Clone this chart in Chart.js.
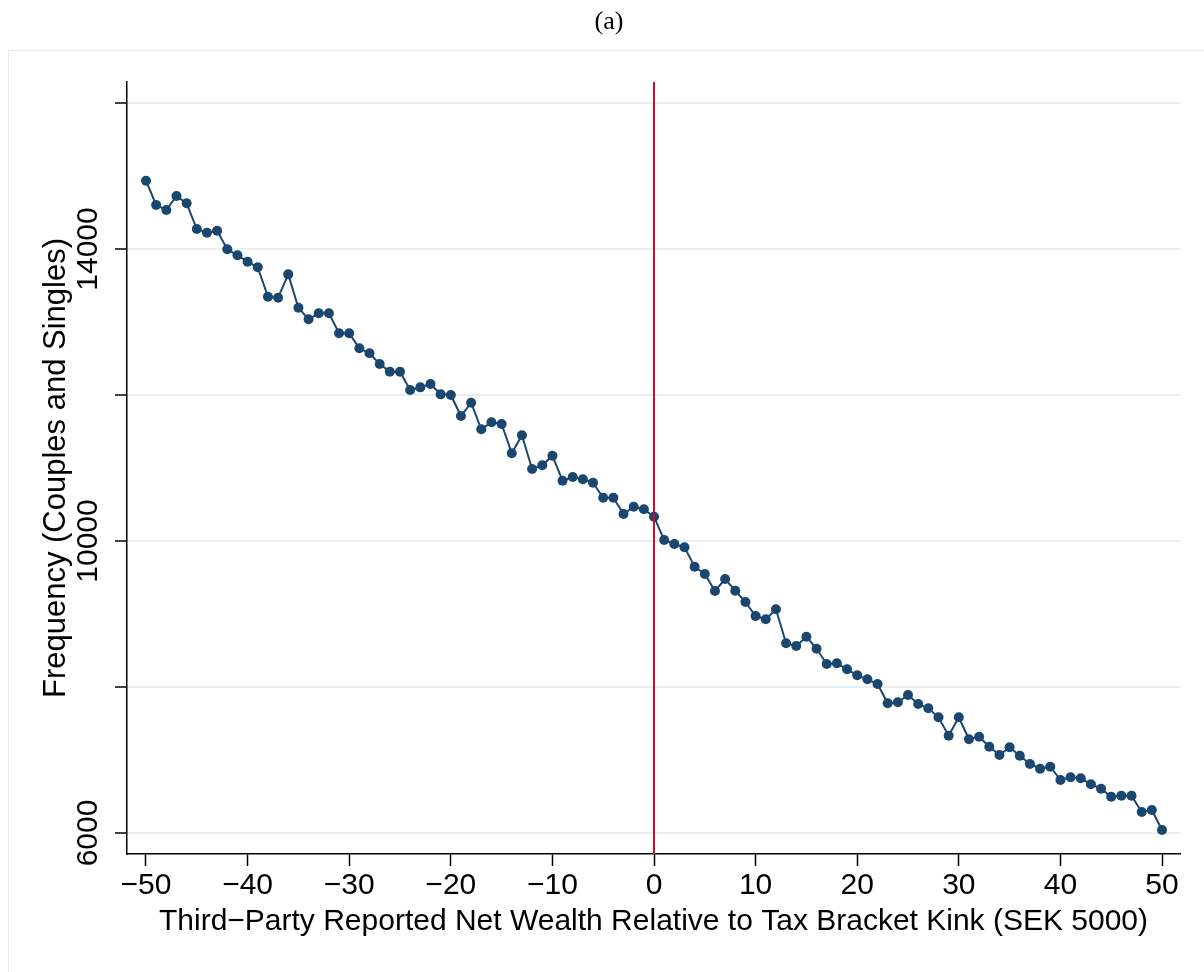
<!DOCTYPE html>
<html>
<head>
<meta charset="utf-8">
<script src="https://cdn.jsdelivr.net/npm/chart.js@4.4.1/dist/chart.umd.min.js"></script>
<style>
    html, body { margin: 0; padding: 0; background: #ffffff; overflow: hidden; width: 1204px; height: 972px; }
    #frame { position: absolute; left: 8px; top: 50px; width: 1300px; height: 1000px; border: 1px solid #e3ebeb; }
    #wrap { position: absolute; left: 0; top: 0; width: 1218px; height: 972px; }
</style>
</head>
<body>
<div id="frame"></div>
<div id="wrap"><canvas id="kink-chart"></canvas></div>
<script>
    "use strict";

    // Data
    var bins = [];
    for (var b = -50; b <= 50; b++) bins.push(b);

    var freqLeft = [
        14936, 14603, 14534, 14726, 14626, 14274, 14223, 14251, 13996, 13914,
        13826, 13749, 13347, 13333, 13653, 13196, 13037, 13119, 13119, 12845,
        12845, 12640, 12571, 12425, 12319, 12319, 12068, 12105, 12151, 12009,
        12000, 11712, 11894, 11530, 11626, 11603, 11201, 11448, 10986, 11037,
        11168, 10826, 10877, 10845, 10798, 10593, 10593, 10370, 10470, 10434
    ];
    var freqKink = [10333];
    var freqRight = [
        10013, 9959, 9914, 9648, 9548, 9315, 9479, 9319, 9164, 8972,
        8927, 9064, 8599, 8562, 8689, 8524, 8315, 8324, 8242, 8160,
        8105, 8041, 7776, 7790, 7890, 7767, 7708, 7585, 7333, 7585,
        7284, 7319, 7182, 7068, 7174, 7059, 6945, 6881, 6908, 6726,
        6763, 6749, 6667, 6607, 6497, 6511, 6511, 6288, 6315, 6041
    ];
    var frequency = freqLeft.concat(freqKink, freqRight);

    var xTicks = [-50, -40, -30, -20, -10, 0, 10, 20, 30, 40, 50];
    var yTicks = [6000, 8000, 10000, 12000, 14000, 16000];
    var yLabelled = [6000, 10000, 14000];
    var kinkAt = 0;

    var xMin = -51.87, xMax = 51.77;
    var yMin = 5712, yMax = 16288;

    var points = bins.map(function (x, i) {
        return {x: x, y: frequency[i]};
    });

    var font = "'Liberation Sans', Arial, Helvetica, sans-serif";

    var ctx = document.getElementById("kink-chart").getContext("2d");
    var myChart = new Chart(ctx, {
        type: "line",
        data: {
            datasets: [{
                    label: "Kink",
                    data: [{x: kinkAt, y: yMin}, {x: kinkAt, y: yMax}],
                    borderColor: "#c8102e",
                    borderWidth: 2,
                    pointRadius: 0
                },
                {
                    label: "Frequency",
                    data: points,
                    borderColor: "#1a476f",
                    backgroundColor: "#1a476f",
                    borderWidth: 2,
                    pointRadius: 5,
                    pointBorderWidth: 0,
                    tension: 0
                }
            ]
        },
        options: {
            responsive: true,
            maintainAspectRatio: false,
            animation: false,
            layout: {
                padding: 0
            },
            plugins: {
                legend: {display: false},
                tooltip: {enabled: false},
                title: {
                    display: true,
                    text: "(a)",
                    color: "#000000",
                    font: {family: "'Liberation Serif', 'DejaVu Serif', serif", size: 26, weight: "normal"},
                    padding: {top: 7, bottom: 43.8}
                }
            },
            scales: {
                x: {
                    type: "linear",
                    min: xMin,
                    max: xMax,
                    afterBuildTicks: function (scale) {
                        scale.ticks = xTicks.map(function (v) { return {value: v}; });
                    },
                    afterFit: function (scale) {
                        scale.height = 118;
                    },
                    grid: {
                        drawOnChartArea: false,
                        drawTicks: true,
                        tickLength: 12,
                        tickColor: "#000000",
                        tickWidth: 1.5
                    },
                    border: {display: true, color: "#000000", width: 1.5},
                    ticks: {
                        color: "#000000",
                        padding: 2,
                        maxRotation: 0,
                        autoSkip: false,
                        font: {family: font, size: 30},
                        callback: function (v) {
                            return String(v).replace("-", "\u2212");
                        }
                    },
                    title: {
                        display: true,
                        text: "Third\u2212Party Reported Net Wealth Relative to Tax Bracket Kink (SEK 5000)",
                        color: "#000000",
                        font: {family: font, size: 30},
                        padding: {top: 0, bottom: 32}
                    }
                },
                y: {
                    type: "linear",
                    min: yMin,
                    max: yMax,
                    afterBuildTicks: function (scale) {
                        scale.ticks = yTicks.map(function (v) { return {value: v}; });
                    },
                    afterFit: function (scale) {
                        scale.width = 127;
                    },
                    grid: {
                        color: "#e6eff1",
                        lineWidth: 2,
                        drawTicks: true,
                        tickLength: 12,
                        tickColor: "#000000",
                        tickWidth: 1.5
                    },
                    border: {display: true, color: "#000000", width: 1.5},
                    ticks: {
                        color: "#000000",
                        minRotation: 90,
                        maxRotation: 90,
                        crossAlign: "center",
                        padding: -15,
                        autoSkip: false,
                        font: {family: font, size: 30},
                        callback: function (v) {
                            return yLabelled.indexOf(v) >= 0 ? String(v) : "";
                        }
                    },
                    title: {
                        display: true,
                        text: "Frequency (Couples and Singles)",
                        color: "#000000",
                        font: {family: font, size: 31},
                        padding: {top: 38, bottom: 0}
                    }
                },
                // empty right-hand strip so the plot stops at the same place as the original
                side: {
                    type: "linear",
                    position: "right",
                    display: true,
                    afterFit: function (scale) {
                        scale.width = 38;
                    },
                    grid: {display: false},
                    border: {display: false},
                    ticks: {display: false}
                }
            }
        }
    });
</script>
</body>
</html>
